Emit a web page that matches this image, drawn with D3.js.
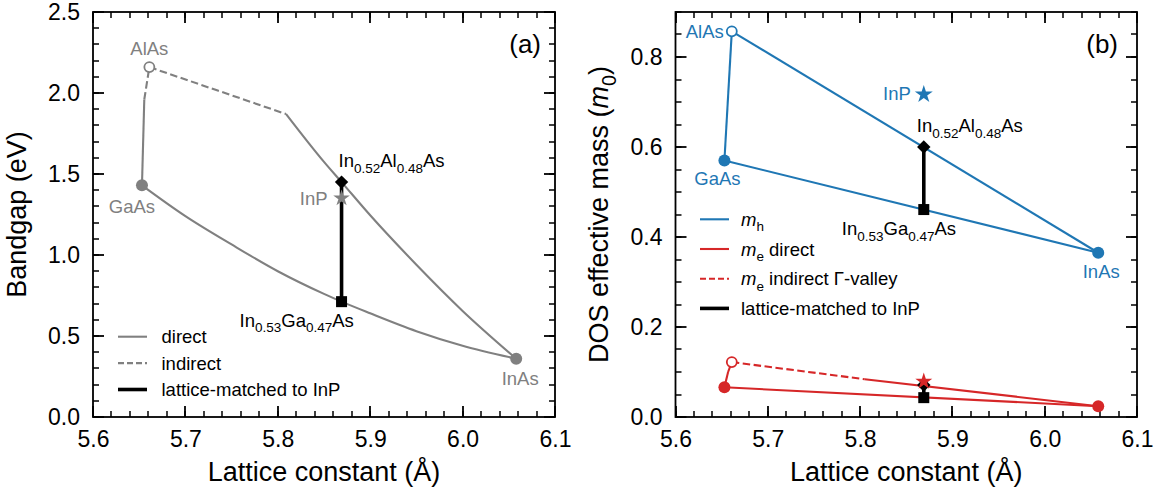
<!DOCTYPE html>
<html><head><meta charset="utf-8">
<script src="https://cdn.jsdelivr.net/npm/d3@7"></script>
<style>
body{margin:0;background:#fff;}
svg{display:block;font-family:"Liberation Sans",Arial,Helvetica,sans-serif;}
</style></head><body>
<svg id="chart" width="1158" height="490"></svg>
<script>
// ---------- data ----------
const xTicks = [5.6, 5.7, 5.8, 5.9, 6.0, 6.1];
const gapTicks = [0.0, 0.5, 1.0, 1.5, 2.0, 2.5];
const massTicks = [0.0, 0.2, 0.4, 0.6, 0.8];

// lattice constants (Å)
const aAlAs = 5.661, aGaAs = 5.653, aInAs = 6.058, aInP = 5.869;

// (a) bandgap (eV)
const gapPoints = {AlAs: 2.16, GaAs: 1.43, InAs: 0.36, InP: 1.35, InAlAs: 1.45, InGaAs: 0.712};
const gapAlGaAsDirect   = [[5.653, 1.43], [5.6555, 1.96]];
const gapAlGaAsIndirect = [[5.6555, 1.96], [5.661, 2.16]];
const gapInAlAsIndirect = [[5.661, 2.16], [5.735, 2.015], [5.809, 1.87]];
const gapInAlAsDirect   = [[5.809, 1.87], [5.85, 1.575], [5.869, 1.45], [5.90, 1.245], [5.95, 0.94], [6.00, 0.655], [6.058, 0.36]];
const gapInGaAs         = [[5.653, 1.43], [5.70, 1.24], [5.75, 1.065], [5.80, 0.90], [5.85, 0.76], [5.869, 0.712], [5.90, 0.64], [5.95, 0.53], [6.00, 0.44], [6.058, 0.36]];

// (b) DOS effective mass (m0)
const mhPoints = {AlAs: 0.857, GaAs: 0.570, InAs: 0.365, InP: 0.717, InAlAs: 0.600, InGaAs: 0.461};
const mhAlGaAs = [[5.653, 0.570], [5.661, 0.857]];
const mhInAlAs = [[5.661, 0.857], [6.058, 0.365]];
const mhInGaAs = [[5.653, 0.570], [6.058, 0.365]];
const mePoints = {AlAs: 0.122, GaAs: 0.066, InAs: 0.024, InP: 0.079, InAlAs: 0.071, InGaAs: 0.043};
const meAlGaAsDirect   = [[5.653, 0.066], [5.657, 0.100]];
const meAlGaAsIndirect = [[5.657, 0.100], [5.661, 0.122]];
const meInAlAsIndirect = [[5.661, 0.122], [5.805, 0.084]];
const meInAlAsDirect   = [[5.805, 0.084], [6.058, 0.024]];
const meInGaAs         = [[5.653, 0.066], [6.058, 0.024]];

// ---------- setup ----------
const svg = d3.select("#chart");
const GREY = "#808080", BLUE = "#1f77b4", RED = "#d62728", BLACK = "#000";
const TOP = 12, BOT = 417;
const xA = d3.scaleLinear().domain([5.6, 6.1]).range([93, 555]);
const yA = d3.scaleLinear().domain([0, 2.5]).range([BOT, TOP]);
const xB = d3.scaleLinear().domain([5.6, 6.1]).range([675.5, 1137]);
const yB = d3.scaleLinear().domain([0, 0.9]).range([BOT, TOP]);

const minorX = d3.range(0, 26).map(i => 5.6 + i * 0.02);
const minorGap = d3.range(0, 26).map(i => i * 0.1);
const minorMass = d3.range(0, 19).map(i => i * 0.05);
const TICKFONT = 23;

function frame(x, y, yMajor, yMinor) {
  const g = svg.append("g");
  const [x0, x1] = x.range(), [y0, y1] = y.range();
  const fmt = d3.format(".1f");
  const styl = sel => {
    sel.select(".domain").remove();
    sel.selectAll(".tick line").remove();
    sel.selectAll(".tick text").style("font-size", TICKFONT + "px").attr("fill", "#000")
      .style("font-family", '"Liberation Sans",Arial,sans-serif');
  };
  g.append("g").attr("transform", `translate(0,${y0})`)
    .call(d3.axisBottom(x).tickValues(xTicks).tickSize(0).tickPadding(13.7).tickFormat(fmt)).call(styl);
  g.append("g").attr("transform", `translate(${x0},0)`)
    .call(d3.axisLeft(y).tickValues(yMajor).tickSize(0).tickPadding(13).tickFormat(fmt)).call(styl);
  // inward tick marks on all four sides
  const tk = g.append("g").attr("stroke", "#000");
  const addX = (vals, len, w) => vals.forEach(v => {
    const px = Math.round(x(v));
    tk.append("line").attr("x1", px).attr("x2", px).attr("y1", y0).attr("y2", y0 - len).attr("stroke-width", w);
    tk.append("line").attr("x1", px).attr("x2", px).attr("y1", y1).attr("y2", y1 + len).attr("stroke-width", w);
  });
  const addY = (vals, len, w) => vals.forEach(v => {
    const py = Math.round(y(v));
    tk.append("line").attr("y1", py).attr("y2", py).attr("x1", x0).attr("x2", x0 + len).attr("stroke-width", w);
    tk.append("line").attr("y1", py).attr("y2", py).attr("x1", x1).attr("x2", x1 - len).attr("stroke-width", w);
  });
  addX(minorX, 6, 1.5); addX(xTicks, 11, 1.8);
  addY(yMinor, 6, 1.5); addY(yMajor, 11, 1.8);
  g.append("rect").attr("x", x0).attr("y", y1).attr("width", x1 - x0).attr("height", y0 - y1)
    .attr("fill", "none").attr("stroke", "#000").attr("stroke-width", 1.8);
}

function rich(g, x, y, parts, o) {
  const size = o.size || 18.5;
  const t = g.append("text").attr("x", x).attr("y", y)
    .attr("text-anchor", o.anchor || "start").attr("fill", o.fill || "#000")
    .style("font-size", size + "px");
  if (o.transform) t.attr("transform", o.transform);
  let shifted = 0;
  parts.forEach(p => {
    const s = t.append("tspan").text(p.t);
    const want = p.sub ? size * 0.3 : 0;
    if (want !== shifted) { s.attr("dy", want - shifted); shifted = want; }
    if (p.sub) s.style("font-size", (size * 0.73) + "px");
    if (p.it) s.style("font-style", "italic");
  });
  return t;
}
const P = (t, sub, it) => ({t, sub: !!sub, it: !!it});

const DASH = "7.5,3.5";
function path(x, y, data, color, width, dash, curve) {
  const line = d3.line().x(d => x(d[0])).y(d => y(d[1])).curve(curve || d3.curveLinear);
  svg.append("path").attr("d", line(data)).attr("fill", "none").attr("stroke", color)
    .attr("stroke-width", width).attr("stroke-dasharray", dash || null)
    .attr("stroke-linejoin", "round");
}
function circle(cx, cy, color, open) {
  svg.append("circle").attr("cx", cx).attr("cy", cy).attr("r", open ? 5 : 6)
    .attr("fill", open ? "#fff" : color).attr("stroke", color).attr("stroke-width", open ? 1.8 : 0);
}
function star(cx, cy, color, size) {
  svg.append("path").attr("d", d3.symbol(d3.symbolStar, size || 90)())
    .attr("transform", `translate(${cx},${cy})`).attr("fill", color);
}
function diamond(cx, cy) {
  const r = 6.7;
  svg.append("path").attr("d", `M${cx},${cy - r}L${cx + r},${cy}L${cx},${cy + r}L${cx - r},${cy}Z`).attr("fill", BLACK);
}
function square(cx, cy) {
  svg.append("rect").attr("x", cx - 5.5).attr("y", cy - 5.5).attr("width", 11).attr("height", 11).attr("fill", BLACK);
}

// ---------- panel (a) ----------
frame(xA, yA, gapTicks, minorGap);
path(xA, yA, gapAlGaAsDirect, GREY, 2.1);
path(xA, yA, gapAlGaAsIndirect, GREY, 2.1, DASH);
path(xA, yA, gapInAlAsIndirect, GREY, 2.1, DASH);
path(xA, yA, gapInAlAsDirect, GREY, 2.1, null, d3.curveMonotoneX);
path(xA, yA, gapInGaAs, GREY, 2.1, null, d3.curveMonotoneX);
path(xA, yA, [[aInP, gapPoints.InGaAs], [aInP, gapPoints.InAlAs]], BLACK, 3.6);
circle(xA(aAlAs), yA(gapPoints.AlAs), GREY, true);
circle(xA(aGaAs), yA(gapPoints.GaAs), GREY, false);
circle(xA(aInAs), yA(gapPoints.InAs), GREY, false);
diamond(xA(aInP), yA(gapPoints.InAlAs));
square(xA(aInP), yA(gapPoints.InGaAs));
star(xA(aInP), yA(gapPoints.InP), GREY, 85);

const gA = svg.append("g");
rich(gA, xA(aAlAs), yA(gapPoints.AlAs) - 12, [P("AlAs")], {anchor: "middle", fill: GREY});
rich(gA, xA(aGaAs) - 10, yA(gapPoints.GaAs) + 28, [P("GaAs")], {anchor: "middle", fill: GREY});
rich(gA, xA(aInAs) + 4, yA(gapPoints.InAs) + 26, [P("InAs")], {anchor: "middle", fill: GREY});
rich(gA, xA(aInP) - 14, yA(gapPoints.InP) + 7, [P("InP")], {anchor: "end", fill: GREY});
rich(gA, xA(aInP) - 3, yA(gapPoints.InAlAs) - 15, [P("In"), P("0.52", 1), P("Al"), P("0.48", 1), P("As")], {});
rich(gA, xA(aInP) - 102, yA(gapPoints.InGaAs) + 25, [P("In"), P("0.53", 1), P("Ga"), P("0.47", 1), P("As")], {});
rich(gA, 541, 53, [P("(a)")], {anchor: "end", size: 26});

// legend (a)
const legA = [
  {label: [P("direct")], color: GREY, w: 2.1, dash: null},
  {label: [P("indirect")], color: GREY, w: 2.1, dash: "6,3"},
  {label: [P("lattice-matched to InP")], color: BLACK, w: 3.6, dash: null}
];
legA.forEach((d, i) => {
  const ly = 336.7 + i * 26.4;
  svg.append("line").attr("x1", 118).attr("x2", 147).attr("y1", ly).attr("y2", ly)
    .attr("stroke", d.color).attr("stroke-width", d.w).attr("stroke-dasharray", d.dash);
  rich(gA, 161.5, ly + 6.5, d.label, {});
});

// axis labels (a)
rich(gA, (93 + 555) / 2, 481, [P("Lattice constant (Å)")], {anchor: "middle", size: 27});
rich(gA, 0, 0, [P("Bandgap (eV)")], {anchor: "middle", size: 27, transform: `translate(26,${(TOP + BOT) / 2}) rotate(-90)`});

// ---------- panel (b) ----------
frame(xB, yB, massTicks, minorMass);
path(xB, yB, mhAlGaAs, BLUE, 2.1);
path(xB, yB, mhInAlAs, BLUE, 2.1);
path(xB, yB, mhInGaAs, BLUE, 2.1);
path(xB, yB, meAlGaAsDirect, RED, 2.1);
path(xB, yB, meAlGaAsIndirect, RED, 2.1, DASH);
path(xB, yB, meInAlAsIndirect, RED, 2.1, DASH);
path(xB, yB, meInAlAsDirect, RED, 2.1);
path(xB, yB, meInGaAs, RED, 2.1);
path(xB, yB, [[aInP, mhPoints.InGaAs], [aInP, mhPoints.InAlAs]], BLACK, 3.6);
path(xB, yB, [[aInP, mePoints.InGaAs], [aInP, mePoints.InAlAs]], BLACK, 3.6);

circle(xB(aAlAs), yB(mhPoints.AlAs), BLUE, true);
circle(xB(aGaAs), yB(mhPoints.GaAs), BLUE, false);
circle(xB(aInAs), yB(mhPoints.InAs), BLUE, false);
diamond(xB(aInP), yB(mhPoints.InAlAs));
square(xB(aInP), yB(mhPoints.InGaAs));
star(xB(aInP), yB(mhPoints.InP), BLUE, 100);

circle(xB(aAlAs), yB(mePoints.AlAs), RED, true);
circle(xB(aGaAs), yB(mePoints.GaAs), RED, false);
circle(xB(aInAs), yB(mePoints.InAs), RED, false);
diamond(xB(aInP), yB(mePoints.InAlAs));
square(xB(aInP), yB(mePoints.InGaAs));
star(xB(aInP), yB(mePoints.InP), RED, 90);

const gB = svg.append("g");
rich(gB, xB(aAlAs) - 8, yB(mhPoints.AlAs) + 7, [P("AlAs")], {anchor: "end", fill: BLUE});
rich(gB, xB(aGaAs) - 7, yB(mhPoints.GaAs) + 24.5, [P("GaAs")], {anchor: "middle", fill: BLUE});
rich(gB, xB(aInAs) + 3, yB(mhPoints.InAs) + 25.6, [P("InAs")], {anchor: "middle", fill: BLUE});
rich(gB, xB(aInP) - 13, yB(mhPoints.InP) + 6, [P("InP")], {anchor: "end", fill: BLUE});
rich(gB, xB(aInP) - 7, yB(mhPoints.InAlAs) - 15, [P("In"), P("0.52", 1), P("Al"), P("0.48", 1), P("As")], {});
rich(gB, xB(aInP) - 82, yB(mhPoints.InGaAs) + 25.5, [P("In"), P("0.53", 1), P("Ga"), P("0.47", 1), P("As")], {});
rich(gB, 1118, 53, [P("(b)")], {anchor: "end", size: 26});

const legB = [
  {label: [P("m", 0, 1), P("h", 1)], color: BLUE, w: 2.1, dash: null},
  {label: [P("m", 0, 1), P("e", 1), P(" direct")], color: RED, w: 2.1, dash: null},
  {label: [P("m", 0, 1), P("e", 1), P(" indirect Γ-valley")], color: RED, w: 2.1, dash: "6,3"},
  {label: [P("lattice-matched to InP")], color: BLACK, w: 3.6, dash: null}
];
legB.forEach((d, i) => {
  const ly = 219.3 + i * 29.7;
  svg.append("line").attr("x1", 700).attr("x2", 729).attr("y1", ly).attr("y2", ly)
    .attr("stroke", d.color).attr("stroke-width", d.w).attr("stroke-dasharray", d.dash);
  rich(gB, 741, ly + 6.5, d.label, {});
});

rich(gB, (675.5 + 1137) / 2, 481, [P("Lattice constant (Å)")], {anchor: "middle", size: 27});
rich(gB, 0, 0, [P("DOS effective mass ("), P("m", 0, 1), P("0", 1), P(")")],
  {anchor: "middle", size: 27, transform: `translate(608,${(TOP + BOT) / 2}) rotate(-90)`});
</script></body></html>
